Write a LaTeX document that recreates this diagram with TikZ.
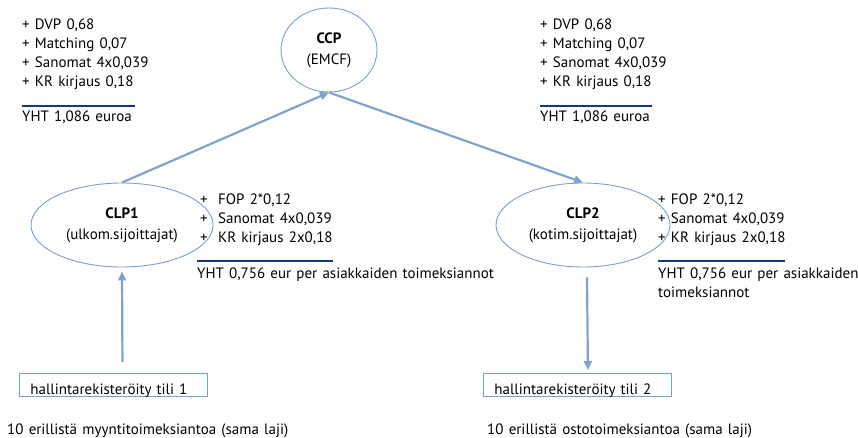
\documentclass[tikz,border=0pt]{standalone}
\usepackage{fontspec}
\setmainfont[WordSpace=1.3]{PT Sans}
\definecolor{CHBlue}{RGB}{122, 160, 202}
\definecolor{CHArrow}{RGB}{128, 163, 203}
\definecolor{CHDark}{RGB}{16, 58, 122}
\usetikzlibrary{arrows.meta, positioning, shapes.geometric}

\begin{document}
\begin{tikzpicture}[
  x=1pt, y=-1pt,
  party/.style={
    ellipse, draw=CHBlue, line width=0.9pt, inner sep=0pt,
    align=center, font=\fontsize{15}{21}\selectfont
  },
  cost/.style={anchor=north west, inner sep=0pt, align=left, font=\fontsize{15}{19}\selectfont},
  total/.style={anchor=base west, inner sep=0pt, align=left, font=\fontsize{15}{19}\selectfont},
  account/.style={
    rectangle, draw=CHBlue, line width=0.9pt, anchor=north west,
    minimum width=188pt, text width=166pt, inner xsep=11pt, inner ysep=0pt,
    text height=21pt, text depth=2pt, font=\fontsize{15}{16}\selectfont
  },
  arrow/.style={-{Triangle[length=9pt, width=8pt]}, line width=2.2pt, color=CHArrow},
  sumline/.style={draw=CHDark, line width=1.1pt},
]
\useasboundingbox (0,0) rectangle (858,438);

\node[party, minimum width=96pt, minimum height=84pt] (ccp) at (329,50) {\textbf{CCP}\\(EMCF)};
\node[party, minimum width=182pt, minimum height=84pt] (clp1) at (122,225) {\textbf{CLP1}\\(ulkom.sijoittajat)};
\node[party, minimum width=174pt, minimum height=84pt] (clp2) at (583,225) {\textbf{CLP2}\\(kotim.sijoittajat)};

\node[cost] (ccpcost1) at (22,19) {+ DVP 0,68\\+ Matching 0,07\\+ Sanomat 4x0,039\\+ KR kirjaus 0,18};
\node[total] (ccpsum1) at (22,122) {YHT 1,086 euroa};
\node[cost] (ccpcost2) at (540,19) {+ DVP 0,68\\+ Matching 0,07\\+ Sanomat 4x0,039\\+ KR kirjaus 0,18};
\node[total] (ccpsum2) at (540,122) {YHT 1,086 euroa};
\draw[sumline] (22,106) -- (135,106);
\draw[sumline] (540,106) -- (652,106);

\node[cost] (clpcost1) at (200,194) {\makebox[18pt][l]{+}FOP 2*0,12\\\makebox[18pt][l]{+}Sanomat 4x0,039\\\makebox[18pt][l]{+}KR kirjaus 2x0,18};
\node[total] (clpsum1) at (197,278) {YHT 0,756 eur per asiakkaiden toimeksiannot};
\node[cost] (clpcost2) at (658,194) {+ FOP 2*0,12\\+ Sanomat 4x0,039\\+ KR kirjaus 2x0,18};
\node[total] (clpsum2) at (658,297) {YHT 0,756 eur per asiakkaiden\\toimeksiannot};
\draw[sumline] (197,261) -- (333,261);
\draw[sumline] (658,261) -- (785,261);

\node[account] (tili1) at (19,373) {hallintarekisteröity tili 1};
\node[account] (tili2) at (483,373) {hallintarekisteröity tili 2};
\node[total] (myynti) at (7,434) {10 erillistä myyntitoimeksiantoa (sama laji)};
\node[total] (osto) at (487,434) {10 erillistä ostotoimeksiantoa (sama laji)};

\draw[arrow] (clp1.north) -- (ccp.south);
\draw[arrow] (ccp.south) -- (clp2.north);
\draw[arrow] ([xshift=9pt, yshift=11pt]tili1.north) -- ([yshift=-4pt]clp1.south);
\draw[arrow] ([xshift=4pt, yshift=-10pt]clp2.south) -- ([xshift=10.5pt, yshift=3pt]tili2.north);
\end{tikzpicture}
\end{document}
